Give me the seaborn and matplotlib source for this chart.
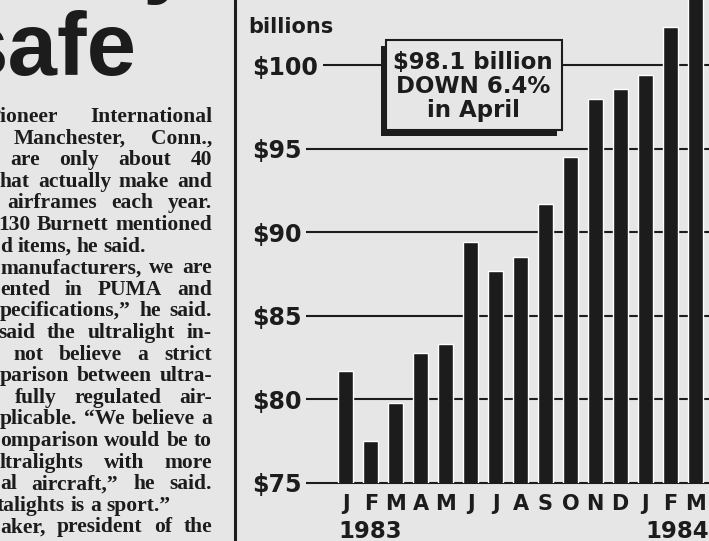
import matplotlib
matplotlib.use("Agg")
import matplotlib.pyplot as plt
import seaborn as sns
import pandas as pd
from matplotlib.patches import Rectangle
from matplotlib.lines import Line2D
from matplotlib.transforms import IdentityTransform

# chart data (billions of dollars, monthly)
months = ["J", "F", "M", "A", "M", "J", "J", "A", "S", "O", "N", "D", "J", "F", "M"]
years = [1983] * 12 + [1984] * 3
outlays = [81.7, 77.5, 79.8, 82.8, 83.3, 89.4, 87.7, 88.5, 91.7, 94.5, 98.0, 98.6, 99.4, 102.3, 104.8]
yticks = [75, 80, 85, 90, 95, 100]
ytick_labels = ["$75", "$80", "$85", "$90", "$95", "$100"]
callout = ["$98.1 billion", "DOWN 6.4%", "in April"]

# newspaper column next to the chart: (text, left edge, justified)
headline = "safe"
article = [
    ("Pioneer International", -12, True),
    ("Manchester, Conn.,", 14, True),
    ("are only about 40", 10, True),
    ("hat actually make and", 0, True),
    ("airframes each year.", 7, True),
    ("130 Burnett mentioned", -2, True),
    ("d items, he said.", 0, False),
    ("manufacturers, we are", 0, True),
    ("ented in PUMA and", 0, True),
    ("pecifications,\u201d he said.", 0, True),
    ("said the ultralight in-", -2, True),
    ("not believe a strict", 13, True),
    ("parison between ultra-", 0, True),
    ("fully regulated air-", 15, True),
    ("plicable. \u201cWe believe a", 0, True),
    ("omparison would be to", 0, True),
    ("ltralights with more", 0, True),
    ("al aircraft,\u201d he said.", 0, True),
    ("talights is a sport.\u201d", -3, False),
    ("aker, president of the", 0, True),
]

W, H = 709, 541
bg = "#e6e6e6"
ink = "#1c1c1c"

sns.set_theme(style="white", rc={"axes.facecolor": bg, "figure.facecolor": bg})
plt.rcParams["font.family"] = ["DejaVu Sans"]

fig = plt.figure(figsize=(W / 100, H / 100), dpi=100)
PX = IdentityTransform()


def fy(y):
    # pixel row from top -> display y
    return H - y


# ---- chart ----
ax = fig.add_axes([296 / W, (H - 483) / H, 413 / W, 483 / H])
df = pd.DataFrame({"period": range(len(outlays)), "value": outlays})
sns.barplot(df, x="period", y="value", color=ink, width=0.6, saturation=1, ax=ax)
ax.set_xlim(-2.0, 14.56)
ax.set_ylim(75, 103.9)
for v in yticks:
    ax.axhline(v, color=ink, lw=1.5, zorder=0.5, clip_on=False)

ax.set_yticks(yticks, ytick_labels, ha="left", fontsize=17, fontweight="bold", color=ink)
ax.tick_params(axis="y", length=0, pad=44 * 0.72)
ax.set_xticks(range(len(months)), months, fontsize=15, fontweight="bold", color=ink)
ax.tick_params(axis="x", length=0, pad=8)
ax.set_axisbelow(False)
for lbl in ax.get_yticklabels():
    lbl.set_bbox(dict(boxstyle="square,pad=0.2", fc=bg, ec="none"))
ax.set_xlabel("")
ax.set_ylabel("")
sns.despine(ax=ax, left=True, bottom=True)

xt = ax.get_xaxis_transform()
ax.text(-0.32, -0.114, str(years[0]), transform=xt, ha="left", va="baseline",
        fontsize=16.5, fontweight="bold", color=ink)
ax.text(12.0, -0.114, str(years[-1]), transform=xt, ha="left", va="baseline",
        fontsize=16.5, fontweight="bold", color=ink)

fig.text(248, fy(33), "billions", transform=PX, ha="left", va="baseline",
         fontsize=15, fontweight="bold", color=ink)

# callout box with drop shadow
fig.add_artist(Rectangle((381, fy(136)), 176, 90, transform=PX, fc=ink, ec="none"))
fig.add_artist(Rectangle((386, fy(130)), 176, 90, transform=PX, fc=bg, ec=ink, lw=1.5))
for i, s in enumerate(callout):
    fig.text(473, fy(62 + 24.5 * i), s, transform=PX, ha="center", va="center",
             fontsize=16.5, fontweight="bold", color=ink)

# column rule
fig.add_artist(Line2D([235, 235], [0, H], transform=PX, lw=2.2, color=ink))

# ---- newspaper text ----
fig.text(137, fy(75), headline, transform=PX, ha="right", va="baseline",
         fontsize=64, fontweight="bold", family="Liberation Sans", color=ink)
fig.text(142, fy(-14), "y", transform=PX, ha="left", va="baseline",
         fontsize=64, fontweight="bold", family="Liberation Sans", color=ink)

renderer = fig.canvas.get_renderer()
fs = 15.5
art_style = dict(transform=PX, ha="left", va="baseline", fontsize=fs,
                 family="Liberation Serif", fontweight="bold", color=ink)
space_w = fs * 0.25 * 100 / 72
right = 212
for i, (line, x0, full) in enumerate(article):
    y = fy(122 + 21.6 * i)
    words = line.split(" ")
    texts = [fig.text(0, y, w, **art_style) for w in words]
    widths = [t.get_window_extent(renderer).width for t in texts]
    gap = space_w
    if full and len(words) > 1:
        gap = (right - x0 - sum(widths)) / (len(words) - 1)
        if gap < 0.6 * space_w:
            # too long: keep the right edge, let the left run off the page
            gap = 0.6 * space_w
            x0 = right - sum(widths) - gap * (len(words) - 1)
    x = x0
    for t, w in zip(texts, widths):
        t.set_x(x)
        x += w + gap

fig.savefig("out.png", dpi=100, facecolor=bg)
